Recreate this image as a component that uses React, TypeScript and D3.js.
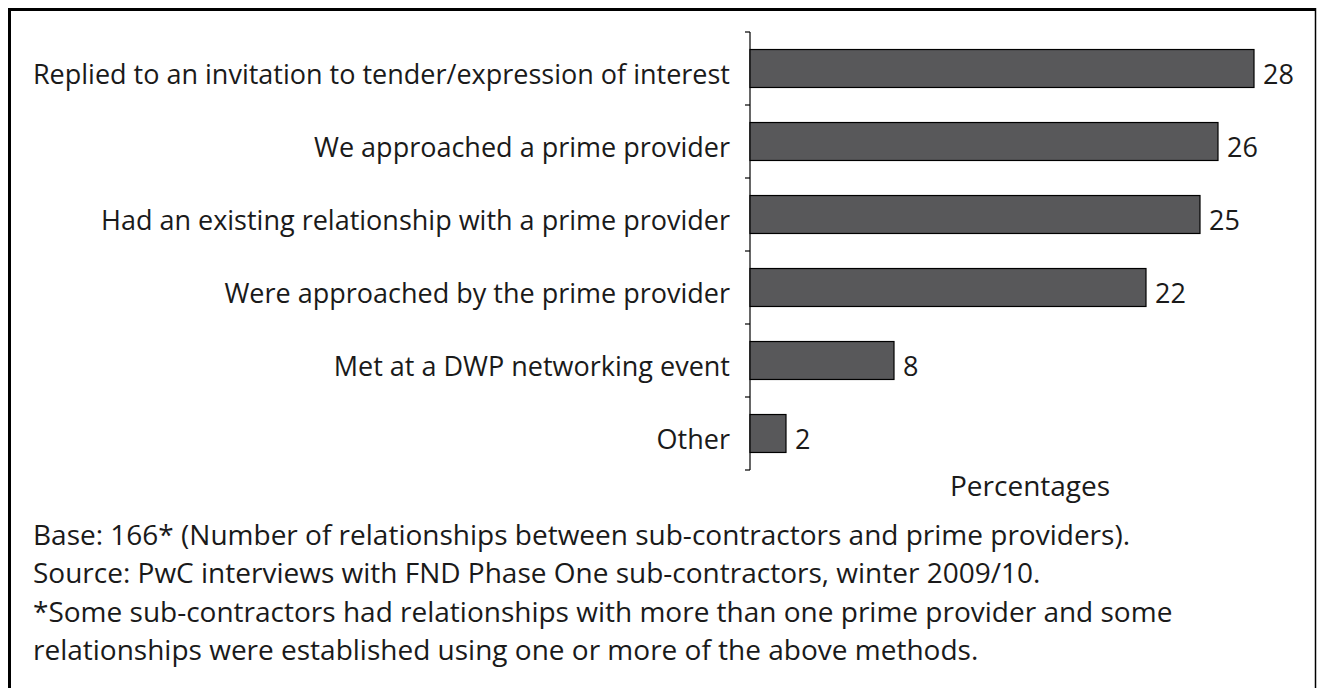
import React from "react";
import * as d3 from "d3";

const categories = [
  "Replied to an invitation to tender/expression of interest",
  "We approached a prime provider",
  "Had an existing relationship with a prime provider",
  "Were approached by the prime provider",
  "Met at a DWP networking event",
  "Other",
];
const values = [28, 26, 25, 22, 8, 2];
const axisTitle = "Percentages";
const notes = [
  "Base: 166* (Number of relationships between sub-contractors and prime providers).",
  "Source: PwC interviews with FND Phase One sub-contractors, winter 2009/10.",
  "*Some sub-contractors had relationships with more than one prime provider and some",
  "relationships were established using one or more of the above methods.",
];

const W = 1317;
const H = 688;
const FONT = "'Open Sans', 'Noto Sans', sans-serif";
const FS = 27;
const FS_NOTE = 28;

export default function App() {
  const axisX = 750;
  const top = 32;
  const bottom = 470;
  const x = d3.scaleLinear().domain([0, 30]).range([axisX, axisX + 540]);
  const y = d3.scaleBand<string>().domain(categories).range([top, bottom]).paddingInner(0.48).paddingOuter(0.24);
  const tickYs = d3.range(categories.length + 1).map((i) => top + (i * (bottom - top)) / categories.length);

  return (
    <div style={{ position: "absolute", left: 0, top: 0, width: W, height: H, background: "#fff" }}>
      <svg width={W} height={H} style={{ display: "block" }} fontFamily={FONT}>
        <rect x={0} y={0} width={W} height={H} fill="#fff" />
        {/* frame */}
        <line x1={8} y1={9.5} x2={1316} y2={9.5} stroke="#000" strokeWidth={3} />
        <line x1={9.5} y1={8} x2={9.5} y2={H} stroke="#000" strokeWidth={3} />
        <line x1={1315.5} y1={8} x2={1315.5} y2={H} stroke="#000" strokeWidth={1.5} />
        {/* axis */}
        <line x1={axisX} y1={top} x2={axisX} y2={bottom} stroke="#000" strokeWidth={1.2} />
        {tickYs.map((ty, i) => (
          <line key={i} x1={axisX - 5} y1={ty} x2={axisX} y2={ty} stroke="#000" strokeWidth={1.2} />
        ))}
        {categories.map((c, i) => {
          const by = y(c)!;
          const bh = y.bandwidth();
          const base = by + bh / 2 + 15;
          return (
            <g key={c}>
              <rect x={x(0)} y={by} width={x(values[i]) - x(0)} height={bh} fill="#58585a" stroke="#000" strokeWidth={1.2} />
              <text x={730} y={base} textAnchor="end" fontSize={FS} fill="#1a1a1a">
                {c}
              </text>
              <text x={x(values[i]) + 9} y={base} textAnchor="start" fontSize={FS} fill="#1a1a1a">
                {values[i]}
              </text>
            </g>
          );
        })}
        <text x={950} y={496} textAnchor="start" fontSize={FS_NOTE} fill="#1a1a1a">
          {axisTitle}
        </text>
        {notes.map((n, i) => (
          <text key={i} x={33} y={545 + i * 38.3} fontSize={FS_NOTE} fill="#1a1a1a">
            {n}
          </text>
        ))}
      </svg>
    </div>
  );
}
